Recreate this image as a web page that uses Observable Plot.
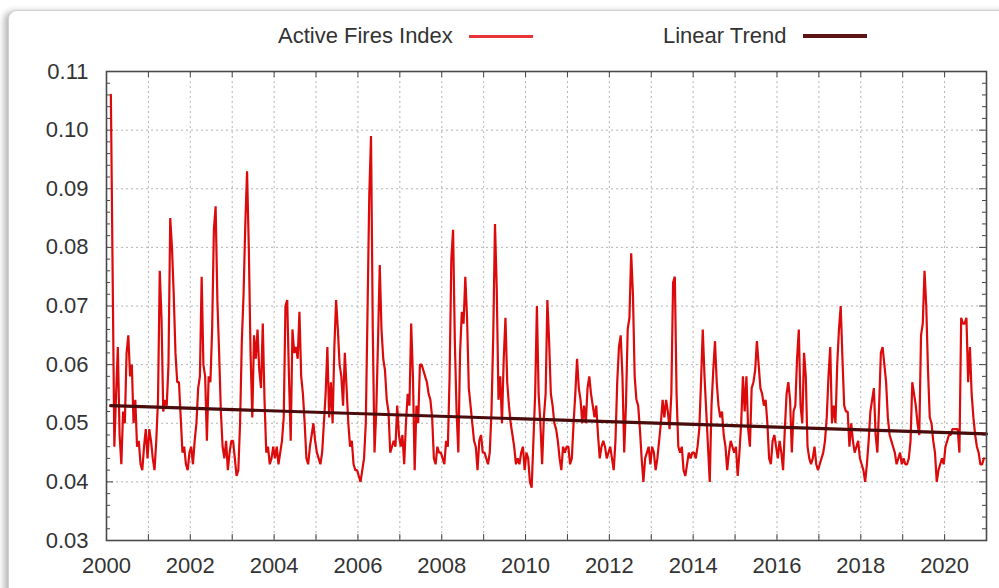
<!DOCTYPE html>
<html>
<head>
<meta charset="utf-8">
<script src="https://cdn.jsdelivr.net/npm/d3@7"></script>
<script src="https://cdn.jsdelivr.net/npm/@observablehq/plot@0.6"></script>
<style>
  html, body { margin: 0; padding: 0; background: #fff; }
  body { width: 999px; height: 588px; overflow: hidden; position: relative; font-family: "Liberation Sans", Arial, sans-serif; }
  #card { position: absolute; left: 8px; top: 10px; width: 1100px; height: 700px; border: 1px solid #cfcfcf; border-radius: 9px; box-shadow: -4px 1px 6px rgba(0,0,0,0.28); background: #fff; }
  #legend { position: absolute; left: 0; top: 0; width: 999px; height: 60px; font-size: 22px; color: #333; }
  .lg-item { position: absolute; top: 23px; display: flex; align-items: center; white-space: nowrap; }
  .lg-swatch { display: inline-block; width: 64px; margin-left: 16px; }
  #chart { position: absolute; left: 0; top: 60px; }
</style>
</head>
<body>
<div id="card"></div>
<div id="legend"></div>
<div id="chart"></div>
<script>
// ---- data (semi-monthly samples) ----
const fires2000 = [null, null, 0.106, 0.076, 0.046, 0.055, 0.063, 0.048, 0.043, 0.052, 0.050, 0.062, 0.065, 0.058, 0.060, 0.050, 0.054, 0.046, 0.047, 0.043, 0.042, 0.046, 0.049, 0.044];
const fires2001 = [0.049, 0.047, 0.044, 0.042, 0.047, 0.054, 0.076, 0.068, 0.052, 0.054, 0.053, 0.060, 0.085, 0.080, 0.072, 0.062, 0.057, 0.057, 0.051, 0.045, 0.046, 0.043, 0.042, 0.045];
const fires2002 = [0.046, 0.043, 0.047, 0.050, 0.056, 0.058, 0.075, 0.060, 0.058, 0.047, 0.058, 0.057, 0.066, 0.083, 0.087, 0.071, 0.062, 0.052, 0.046, 0.044, 0.047, 0.042, 0.045, 0.047];
const fires2003 = [0.047, 0.044, 0.041, 0.042, 0.050, 0.064, 0.072, 0.084, 0.093, 0.080, 0.062, 0.051, 0.065, 0.061, 0.066, 0.059, 0.056, 0.067, 0.054, 0.045, 0.046, 0.043, 0.044, 0.046];
const fires2004 = [0.044, 0.046, 0.043, 0.045, 0.047, 0.051, 0.070, 0.071, 0.058, 0.047, 0.066, 0.062, 0.063, 0.061, 0.069, 0.058, 0.055, 0.050, 0.044, 0.043, 0.046, 0.048, 0.050, 0.047];
const fires2005 = [0.045, 0.044, 0.043, 0.045, 0.050, 0.055, 0.063, 0.051, 0.057, 0.050, 0.063, 0.071, 0.066, 0.060, 0.058, 0.053, 0.062, 0.056, 0.050, 0.046, 0.047, 0.043, 0.042, 0.042];
const fires2006 = [0.041, 0.040, 0.042, 0.044, 0.050, 0.069, 0.089, 0.099, 0.066, 0.045, 0.052, 0.064, 0.077, 0.066, 0.061, 0.059, 0.054, 0.052, 0.045, 0.046, 0.047, 0.046, 0.053, 0.048];
const fires2007 = [0.046, 0.048, 0.043, 0.050, 0.055, 0.053, 0.067, 0.058, 0.042, 0.053, 0.050, 0.060, 0.060, 0.059, 0.058, 0.057, 0.055, 0.054, 0.051, 0.044, 0.043, 0.046, 0.045, 0.045];
const fires2008 = [0.044, 0.043, 0.047, 0.046, 0.058, 0.078, 0.083, 0.064, 0.052, 0.045, 0.062, 0.069, 0.067, 0.075, 0.068, 0.056, 0.053, 0.050, 0.047, 0.046, 0.042, 0.047, 0.048, 0.045];
const fires2009 = [0.045, 0.044, 0.043, 0.045, 0.052, 0.065, 0.084, 0.073, 0.054, 0.058, 0.050, 0.061, 0.068, 0.057, 0.053, 0.050, 0.048, 0.046, 0.043, 0.044, 0.043, 0.045, 0.046, 0.042];
const fires2010 = [0.045, 0.044, 0.040, 0.039, 0.047, 0.055, 0.070, 0.055, 0.050, 0.043, 0.051, 0.055, 0.071, 0.064, 0.055, 0.053, 0.050, 0.049, 0.047, 0.044, 0.042, 0.046, 0.045, 0.046];
const fires2011 = [0.046, 0.043, 0.044, 0.050, 0.055, 0.061, 0.056, 0.054, 0.050, 0.053, 0.050, 0.056, 0.058, 0.055, 0.053, 0.051, 0.053, 0.048, 0.044, 0.046, 0.047, 0.046, 0.044, 0.045];
const fires2012 = [0.046, 0.044, 0.042, 0.047, 0.057, 0.063, 0.065, 0.058, 0.045, 0.053, 0.066, 0.068, 0.079, 0.072, 0.058, 0.054, 0.053, 0.049, 0.044, 0.040, 0.044, 0.045, 0.046, 0.043];
const fires2013 = [0.046, 0.045, 0.042, 0.044, 0.047, 0.050, 0.054, 0.051, 0.054, 0.052, 0.049, 0.055, 0.074, 0.075, 0.055, 0.046, 0.045, 0.046, 0.042, 0.041, 0.043, 0.045, 0.044, 0.045];
const fires2014 = [0.045, 0.044, 0.046, 0.049, 0.057, 0.066, 0.058, 0.052, 0.046, 0.040, 0.053, 0.059, 0.064, 0.057, 0.053, 0.051, 0.052, 0.048, 0.046, 0.042, 0.045, 0.047, 0.046, 0.045];
const fires2015 = [0.046, 0.041, 0.045, 0.050, 0.058, 0.052, 0.058, 0.049, 0.046, 0.056, 0.057, 0.059, 0.064, 0.060, 0.056, 0.055, 0.053, 0.054, 0.050, 0.044, 0.043, 0.047, 0.048, 0.046];
const fires2016 = [0.044, 0.047, 0.045, 0.042, 0.049, 0.055, 0.057, 0.054, 0.045, 0.052, 0.053, 0.061, 0.066, 0.053, 0.050, 0.062, 0.058, 0.046, 0.044, 0.043, 0.044, 0.046, 0.043, 0.042];
const fires2017 = [0.043, 0.044, 0.045, 0.047, 0.051, 0.058, 0.063, 0.050, 0.053, 0.050, 0.060, 0.066, 0.070, 0.061, 0.053, 0.052, 0.052, 0.046, 0.050, 0.047, 0.045, 0.046, 0.047, 0.044];
const fires2018 = [0.043, 0.042, 0.040, 0.043, 0.047, 0.052, 0.054, 0.056, 0.048, 0.045, 0.053, 0.062, 0.063, 0.060, 0.057, 0.051, 0.048, 0.047, 0.046, 0.045, 0.043, 0.044, 0.045, 0.043];
const fires2019 = [0.044, 0.043, 0.043, 0.044, 0.047, 0.057, 0.055, 0.053, 0.050, 0.048, 0.065, 0.067, 0.076, 0.070, 0.059, 0.051, 0.050, 0.047, 0.045, 0.040, 0.042, 0.043, 0.044, 0.043];
const fires2020 = [0.046, 0.047, 0.048, 0.048, 0.049, 0.049, 0.049, 0.049, 0.045, 0.068, 0.067, 0.067, 0.068, 0.057, 0.063, 0.055, 0.051, 0.048, 0.046, 0.045, 0.043, 0.043, 0.044, null];

const trendYears = [2000.1, 2021];
const trendValues = [0.0530, 0.0482];

const xLabelYears = [2000, 2002, 2004, 2006, 2008, 2010, 2012, 2014, 2016, 2018, 2020];
const yLabelValues = [0.03, 0.04, 0.05, 0.06, 0.07, 0.08, 0.09, 0.10, 0.11];
const seriesNames = ["Active Fires Index", "Linear Trend"];
const seriesColors = ["#dc0a0a", "#4a0b0b"];

// ---- build tables ----
const yearly = [fires2000, fires2001, fires2002, fires2003, fires2004, fires2005, fires2006,
  fires2007, fires2008, fires2009, fires2010, fires2011, fires2012, fires2013, fires2014,
  fires2015, fires2016, fires2017, fires2018, fires2019, fires2020];
const rows = [];
yearly.forEach((arr, k) => {
  arr.forEach((v, i) => { if (v != null) rows.push({t: 2000 + k + (i + 0.5) / arr.length, v}); });
});
const trendRows = trendYears.map((t, i) => ({t, v: trendValues[i]}));

// ---- layout ----
const W = 999, H = 528, mL = 106, mR = 13, mT = 11, mB = 48;
const innerW = W - mL - mR, innerH = H - mT - mB;
const xDomain = [2000, 2021], yDomain = [0.03, 0.11];
const ux = (xDomain[1] - xDomain[0]) / innerW;
const uy = (yDomain[1] - yDomain[0]) / innerH;

const allYears = d3.range(xDomain[0], xDomain[1] + 1);
const innerYears = allYears.slice(1, -1);
const yGrid = yLabelValues.slice(1, -1);
const yMinor = d3.range(0, 41).map(i => +(0.03 + i * 0.002).toFixed(3));
const isMajor = d => Math.abs(d * 100 - Math.round(d * 100)) < 1e-6;

const gridStyle = {stroke: "#b4b4b4", strokeWidth: 1, strokeDasharray: "2,3"};
const tickStroke = "#444";

const plot = Plot.plot({
  width: W, height: H,
  marginLeft: mL, marginRight: mR, marginTop: mT, marginBottom: mB,
  style: {fontSize: "22px", fontFamily: "'Liberation Sans', Arial, sans-serif", color: "#333", background: "transparent"},
  x: {domain: xDomain, ticks: xLabelYears, tickFormat: d => String(d), tickSize: 0, tickPadding: 17, label: null},
  y: {domain: yDomain, ticks: yLabelValues, tickFormat: d3.format(".2f"), tickSize: 0, tickPadding: 18, label: null},
  marks: [
    Plot.ruleX(innerYears, {x: d => d, ...gridStyle}),
    Plot.ruleY(yGrid, {y: d => d, ...gridStyle}),
    // inward ticks on all four sides
    Plot.ruleX(innerYears, {x: d => d, y1: yDomain[0], y2: yDomain[0] + 6 * uy, stroke: tickStroke}),
    Plot.ruleX(innerYears, {x: d => d, y1: yDomain[1], y2: yDomain[1] - 6 * uy, stroke: tickStroke}),
    Plot.ruleY(yMinor, {y: d => d, x1: xDomain[0], x2: d => xDomain[0] + (isMajor(d) ? 7 : 4) * ux, stroke: tickStroke}),
    Plot.ruleY(yMinor, {y: d => d, x1: xDomain[1], x2: d => xDomain[1] - (isMajor(d) ? 7 : 4) * ux, stroke: tickStroke}),
    Plot.line(rows, {x: "t", y: "v", stroke: seriesColors[0], strokeWidth: 2.2, strokeLinejoin: "miter"}),
    Plot.line(trendRows, {x: "t", y: "v", stroke: seriesColors[1], strokeWidth: 3.2}),
    Plot.frame({stroke: "#4a4a4a", strokeWidth: 1.6})
  ]
});
document.getElementById("chart").appendChild(plot);

// ---- legend ----
const legend = document.getElementById("legend");
const legendLeft = [278, 663];
seriesNames.forEach((name, i) => {
  const item = document.createElement("div");
  item.className = "lg-item";
  item.style.left = legendLeft[i] + "px";
  const label = document.createElement("span");
  label.textContent = name;
  const sw = document.createElement("span");
  sw.className = "lg-swatch";
  sw.style.borderTop = (i === 0 ? 3 : 4) + "px solid " + (i === 0 ? "#e8343a" : "#5c1414");
  item.appendChild(label);
  item.appendChild(sw);
  legend.appendChild(item);
});
</script>
</body>
</html>
